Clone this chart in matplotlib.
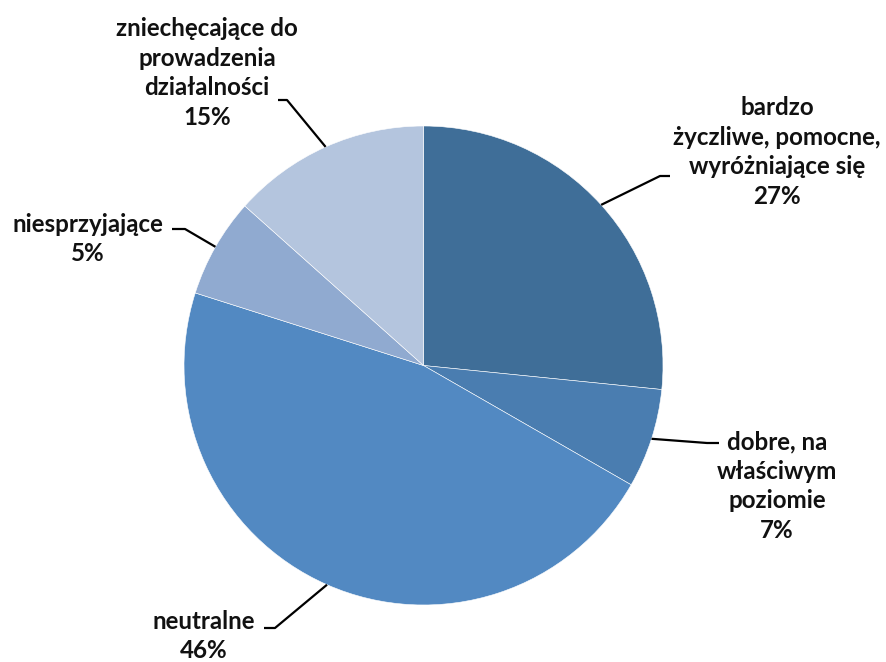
import numpy as np
import matplotlib.pyplot as plt

# shares, labels as printed on the chart
categories = ["bardzo\nżyczliwe, pomocne,\nwyróżniające się",
              "dobre, na\nwłaściwym\npoziomie",
              "neutralne",
              "niesprzyjające",
              "zniechęcające do\nprowadzenia\ndziałalności"]
shares = [26.6, 6.7, 46.6, 6.7, 13.4]
pct_labels = ["27%", "7%", "46%", "5%", "15%"]
colors = ["#3f6e98", "#4a7db0", "#5289c2", "#90aad0", "#b4c5de"]

# label layout in pixel coords (x, y from top): text centre, elbow, end of leader
text_pos = [(777, 152), (777, 486), (204, 636), (88, 239), (207, 73)]
elbows = [(660, 176), (707, 443), (275, 628), (185, 229), (287, 100)]
ends = [(670, 176), (719, 443), (264, 628), (172, 229), (278, 100)]

W, H = 887, 662
cx, cy, r = 423.5, 365.5, 239.5

fig = plt.figure(figsize=(W / 100, H / 100), dpi=100)
ax = fig.add_axes([0, 0, 1, 1])

wedges, _ = ax.pie(shares, colors=colors, startangle=90, counterclock=False,
                   center=(cx, H - cy), radius=r,
                   wedgeprops=dict(edgecolor='white', linewidth=0.4))
ax.set_xlim(0, W)
ax.set_ylim(0, H)
ax.set_aspect('equal')
ax.axis('off')

for w, lab, pct, tp, el, en in zip(wedges, categories, pct_labels, text_pos, elbows, ends):
    mid = np.deg2rad((w.theta1 + w.theta2) / 2)
    x0 = cx + r * np.cos(mid)
    y0 = (H - cy) + r * np.sin(mid)
    ax.plot([x0, el[0], en[0]], [y0, H - el[1], H - en[1]], color='black', lw=1.6,
            solid_capstyle='butt')
    ax.text(tp[0], H - tp[1], lab + "\n" + pct, ha='center', va='center',
            multialignment='center', fontsize=17.4, fontweight='bold',
            family='Lato', linespacing=1.34, color='#111111')

fig.savefig("out.png", dpi=100)
